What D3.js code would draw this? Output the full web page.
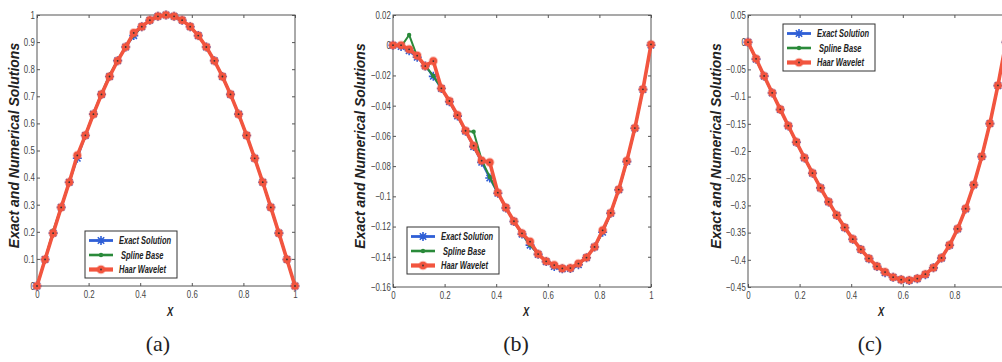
<!DOCTYPE html>
<html><head><meta charset="utf-8">
<script src="https://cdn.jsdelivr.net/npm/d3@7"></script>
<style>
html,body{margin:0;padding:0;background:#fff;}
svg{display:block;}
</style></head>
<body>
<svg id="chart" width="1002" height="362"></svg>
<script>
// ---------- DATA ----------
const xValues = [0,0.03125,0.0625,0.09375,0.125,0.15625,0.1875,0.21875,0.25,0.28125,0.3125,0.34375,0.375,0.40625,0.4375,0.46875,0.5,0.53125,0.5625,0.59375,0.625,0.65625,0.6875,0.71875,0.75,0.78125,0.8125,0.84375,0.875,0.90625,0.9375,0.96875,1];

const exactA  = [0,0.098,0.1951,0.2903,0.3827,0.4714,0.5556,0.6344,0.7071,0.773,0.8315,0.8819,0.9239,0.9569,0.9808,0.9952,1,0.9952,0.9808,0.9569,0.9239,0.8819,0.8315,0.773,0.7071,0.6344,0.5556,0.4714,0.3827,0.2903,0.1951,0.098,0];
const splineA = [0,0.099,0.204,0.292,0.385,0.476,0.558,0.637,0.711,0.779,0.834,0.884,0.925,0.957,0.981,0.995,1,0.995,0.981,0.957,0.924,0.882,0.832,0.773,0.707,0.634,0.556,0.471,0.383,0.290,0.195,0.098,0];
const haarA   = [0,0.098,0.195,0.290,0.383,0.482,0.556,0.634,0.707,0.773,0.831,0.882,0.934,0.957,0.981,0.995,1,0.995,0.981,0.957,0.924,0.882,0.831,0.773,0.707,0.634,0.556,0.471,0.383,0.290,0.195,0.098,0];

const exactB  = [0,-0.0009,-0.0037,-0.008,-0.0137,-0.0206,-0.0286,-0.0374,-0.0469,-0.0569,-0.0671,-0.0775,-0.0879,-0.098,-0.1077,-0.1167,-0.125,-0.1323,-0.1384,-0.1432,-0.1465,-0.148,-0.1477,-0.1453,-0.1406,-0.1335,-0.1238,-0.1112,-0.0957,-0.077,-0.0549,-0.0293,0];
const splineB = [0,-0.0009,0.0068,-0.0075,-0.0135,-0.0203,-0.0284,-0.0372,-0.0467,-0.0567,-0.0572,-0.076,-0.0872,-0.0978,-0.1075,-0.1166,-0.1249,-0.1322,-0.1383,-0.1431,-0.1464,-0.1479,-0.1476,-0.1452,-0.1405,-0.1334,-0.1237,-0.1111,-0.0956,-0.0769,-0.0548,-0.0292,0];
const haarB   = [0,0,-0.0027,-0.0069,-0.0138,-0.0105,-0.0285,-0.0369,-0.0462,-0.0566,-0.0665,-0.0764,-0.0775,-0.0976,-0.1075,-0.1165,-0.1245,-0.13,-0.1382,-0.143,-0.1455,-0.1477,-0.1475,-0.1445,-0.1405,-0.1335,-0.1225,-0.111,-0.0955,-0.0765,-0.0548,-0.0292,0.0005];

const exactC  = [0,-0.0312,-0.0624,-0.0933,-0.1239,-0.1541,-0.1838,-0.2127,-0.2408,-0.2678,-0.2937,-0.3181,-0.341,-0.3621,-0.3812,-0.3979,-0.4122,-0.4236,-0.4319,-0.4368,-0.4379,-0.4348,-0.4273,-0.4148,-0.3969,-0.3733,-0.3433,-0.3065,-0.2624,-0.2103,-0.1496,-0.0798,0];
const splineC = [0,-0.0310,-0.0622,-0.0931,-0.1237,-0.1539,-0.1836,-0.2125,-0.2406,-0.2676,-0.2935,-0.3179,-0.3408,-0.3619,-0.3810,-0.3977,-0.4120,-0.4234,-0.4317,-0.4366,-0.4377,-0.4346,-0.4271,-0.4146,-0.3967,-0.3731,-0.3431,-0.3063,-0.2622,-0.2101,-0.1494,-0.0796,0];
const haarC   = [0,-0.0305,-0.062,-0.093,-0.1235,-0.1535,-0.1835,-0.2125,-0.2405,-0.268,-0.2935,-0.318,-0.3405,-0.362,-0.381,-0.3975,-0.412,-0.4225,-0.432,-0.4365,-0.4375,-0.4345,-0.4265,-0.4145,-0.3965,-0.373,-0.343,-0.306,-0.262,-0.21,-0.1495,-0.0795,0];

const xTicks  = [0,0.2,0.4,0.6,0.8,1];
const yTicksA = [0,0.1,0.2,0.3,0.4,0.5,0.6,0.7,0.8,0.9,1];
const yTicksB = [-0.16,-0.14,-0.12,-0.1,-0.08,-0.06,-0.04,-0.02,0,0.02];
const yTicksC = [-0.45,-0.4,-0.35,-0.3,-0.25,-0.2,-0.15,-0.1,-0.05,0,0.05];

const seriesNames = ["Exact Solution","Spline Base","Haar Wavelet"];
const captions = ["(a)","(b)","(c)"];
const yLabel = "Exact and Numerical Solutions";
const xLabel = "X";

// ---------- LAYOUT / STYLE ----------
const W = 1002;
const squeeze = 0.75;   // the figure's text is horizontally compressed
const colors = ["#2f5fd6","#2a8a3a","#f2553f"];
const panels = [
  {left:37, right:295, top:15, bottom:286, yDom:[0,1], yTicks:yTicksA, series:[exactA,splineA,haarA], leg:[85,231], ylabX:14, cap:158},
  {left:393, right:651, top:15, bottom:287, yDom:[-0.16,0.02], yTicks:yTicksB, series:[exactB,splineB,haarB], leg:[407,227], ylabX:360, cap:516},
  {left:748, right:1006, top:15, bottom:287, yDom:[-0.45,0.05], yTicks:yTicksC, series:[exactC,splineC,haarC], leg:[783,24], ylabX:716, cap:870}
];

const svg = d3.select("#chart");
const sans = "'Liberation Sans', Arial, sans-serif";
const fmt = d3.format("~g");
const starPath = "M-4.5,0H4.5M0,-4.5V4.5M-3.2,-3.2L3.2,3.2M-3.2,3.2L3.2,-3.2";

function drawMarker(g, i, x, y) {
  if (i === 0) {
    g.append("path").attr("d", starPath).attr("transform", `translate(${x},${y})`)
      .attr("stroke", colors[0]).attr("stroke-width", 1.6).attr("fill", "none");
  } else if (i === 1) {
    g.append("circle").attr("cx", x).attr("cy", y).attr("r", 2.2).attr("fill", colors[1]);
  } else {
    g.append("circle").attr("cx", x).attr("cy", y).attr("r", 3.8).attr("fill", colors[2])
      .attr("stroke", colors[2]).attr("stroke-opacity", 0.35).attr("stroke-width", 2);
    g.append("circle").attr("cx", x).attr("cy", y).attr("r", 0.9).attr("fill", "#333");
  }
}

panels.forEach((p, pi) => {
  const x = d3.scaleLinear().domain([0,1]).range([p.left, p.right]);
  const y = d3.scaleLinear().domain(p.yDom).range([p.bottom, p.top]);
  const g = svg.append("g");

  // axes box
  g.append("rect").attr("x", p.left).attr("y", p.top)
    .attr("width", p.right - p.left).attr("height", p.bottom - p.top)
    .attr("fill", "none").attr("stroke", "#555").attr("stroke-width", 1);

  // axes (ticks inside, mirrored)
  const tl = 3;
  const ax = (axis, tr) => {
    const a = g.append("g").attr("transform", tr).call(axis);
    a.select(".domain").remove();
    a.selectAll(".tick line").attr("stroke", "#555");
    a.selectAll("text").attr("fill", "#444").style("font-family", sans).style("font-size", "10.5px")
      .attr("transform", `scale(${squeeze},1)`);
    return a;
  };
  ax(d3.axisBottom(x).tickValues(xTicks).tickSize(-tl).tickPadding(5)
       .tickFormat(d => x(d) > W - 2 ? "" : fmt(d)), `translate(0,${p.bottom})`);
  ax(d3.axisTop(x).tickValues(xTicks).tickSize(-tl).tickFormat(""), `translate(0,${p.top})`);
  ax(d3.axisLeft(y).tickValues(p.yTicks).tickSize(-tl).tickPadding(3).tickFormat(fmt), `translate(${p.left},0)`);
  ax(d3.axisRight(y).tickValues(p.yTicks).tickSize(-tl).tickFormat(""), `translate(${p.right},0)`);

  // series
  const widths = [2.2, 2, 3.6];
  p.series.forEach((vals, si) => {
    const pts = xValues.map((xv, k) => [x(xv), y(vals[k])]);
    const sg = g.append("g");
    sg.append("path").attr("d", d3.line()(pts)).attr("fill", "none")
      .attr("stroke", colors[si]).attr("stroke-width", widths[si]).attr("stroke-linejoin", "round");
    pts.forEach(pt => drawMarker(sg, si, pt[0], pt[1]));
  });

  // legend
  const [lx, ly] = p.leg;
  const lg = g.append("g");
  lg.append("rect").attr("x", lx).attr("y", ly).attr("width", 92).attr("height", 47)
    .attr("fill", "#fff").attr("stroke", "#333").attr("stroke-width", 1);
  seriesNames.forEach((name, si) => {
    const yy = ly + 9.5 + si * 14.5;
    lg.append("line").attr("x1", lx + 4).attr("x2", lx + 28).attr("y1", yy).attr("y2", yy)
      .attr("stroke", colors[si]).attr("stroke-width", widths[si] + 0.6);
    drawMarker(lg, si, lx + 16, yy);
    lg.append("text")
      .attr("transform", `translate(${lx + (si === 1 ? 36 : 34)},${yy}) scale(${squeeze},1)`)
      .attr("dy", "0.36em")
      .style("font-family", sans).style("font-size", "10px").style("font-style", "italic").style("font-weight", "bold")
      .attr("fill", "#222").text(name);
  });

  // labels
  g.append("text").attr("transform", `translate(${p.ylabX},${(p.top + p.bottom)/2 - 5}) rotate(-90)`)
    .attr("text-anchor", "middle").attr("dy", "0.35em")
    .style("font-family", sans).style("font-size", "14px")
    .style("font-style", "italic").style("font-weight", "bold").attr("fill", "#222").text(yLabel);
  g.append("text").attr("transform", `translate(${(p.left + p.right)/2 + 4},316) scale(${squeeze},1)`)
    .attr("text-anchor", "middle")
    .style("font-family", sans).style("font-size", "12.5px")
    .style("font-style", "italic").style("font-weight", "bold").attr("fill", "#222").text(xLabel);
  g.append("text").attr("x", p.cap).attr("y", 351).attr("text-anchor", "middle")
    .style("font-family", "'Liberation Serif', 'DejaVu Serif', serif").style("font-size", "22px")
    .attr("fill", "#222").text(captions[pi]);
});
</script>
</body></html>
